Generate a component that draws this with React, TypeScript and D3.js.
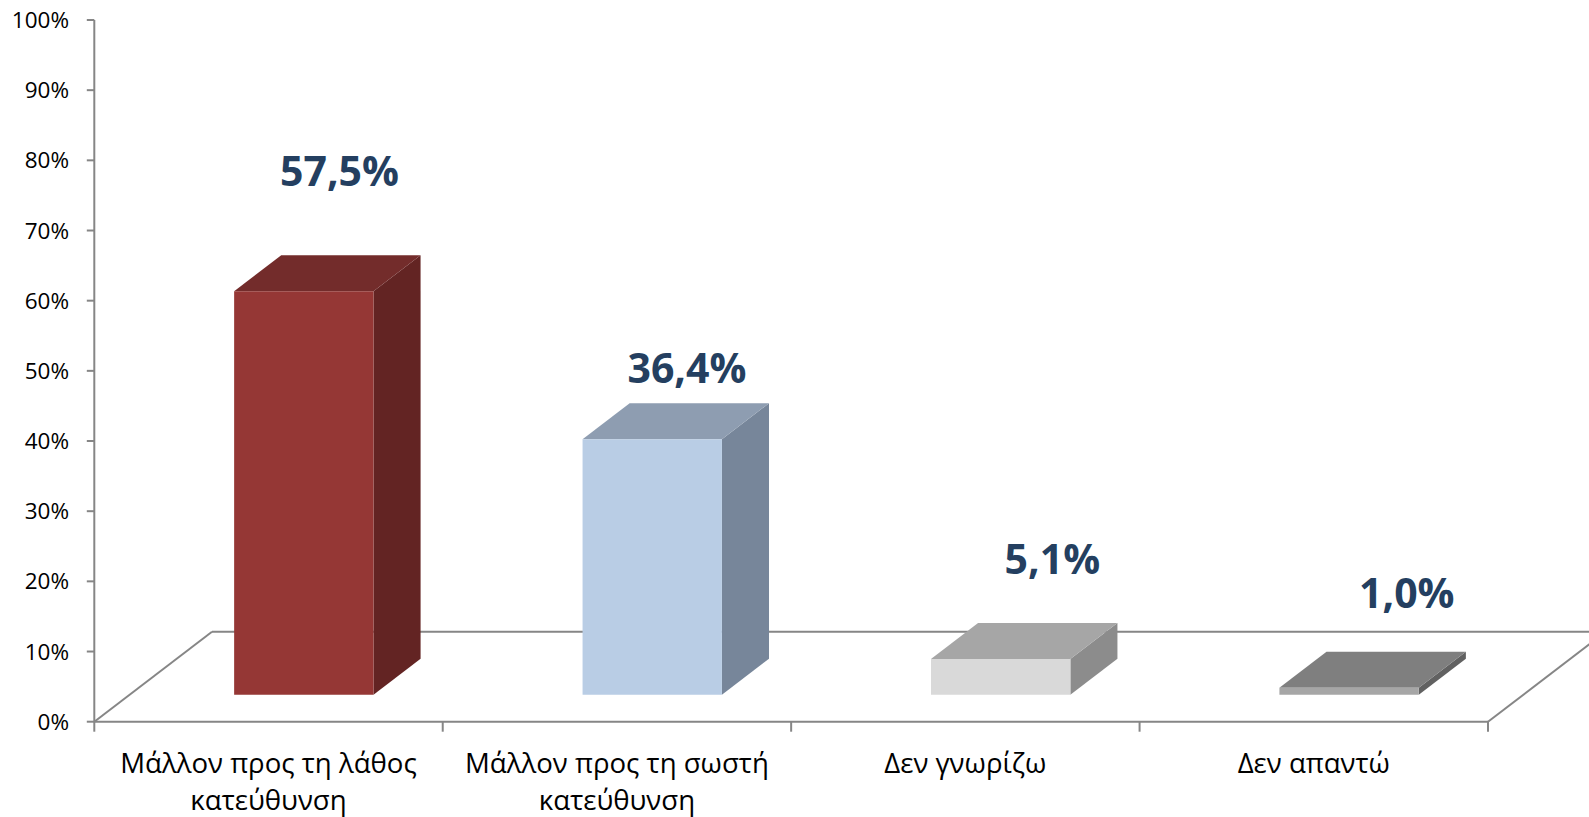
import React, { useEffect } from 'react';
import * as d3 from 'd3';

// ---- data ----
const categories: string[] = [
  'Μάλλον προς τη λάθος\nκατεύθυνση',
  'Μάλλον προς τη σωστή\nκατεύθυνση',
  'Δεν γνωρίζω',
  'Δεν απαντώ',
];
const values: number[] = [57.5, 36.4, 5.1, 1.0];
const yTickValues: number[] = [0, 10, 20, 30, 40, 50, 60, 70, 80, 90, 100];

// ---- styles ----
const frontColors = ['#953735', '#B9CDE5', '#D9D9D9', '#A6A6A6'];
const topColors = ['#732C2B', '#8E9DB1', '#A6A6A6', '#7F7F7F'];
const sideColors = ['#632423', '#77869A', '#8C8C8C', '#616161'];
// manual label placement (labels were dragged in the original)
const labelDx = [71, 70, 87, 93];
const labelDy = [-132, -83, -112, -107];

const W = 1589;
const H = 817;
const PLOT_LEFT = 94.3;
const PLOT_RIGHT = 1488;
const Y_TOP = 20;
const Y_BOTTOM = 721.7;
const DEPTH_DX = 117.7;
const DEPTH_DY = 90;
const BAR_D0 = 0.3;
const BAR_D1 = 0.7;
const AXIS_COLOR = '#868686';
const FONT = "'Open Sans', 'Noto Sans', 'DejaVu Sans', sans-serif";

const locale = d3.formatLocale({ decimal: ',', thousands: '.', grouping: [3], currency: ['', '€'] });
const fmt = locale.format('.1f');

export default function App() {
  useEffect(() => {
    document.body.style.margin = '0';
    document.documentElement.style.overflow = 'hidden';
  }, []);

  const x = d3.scaleBand<string>().domain(categories).range([PLOT_LEFT, PLOT_RIGHT]).padding(0);
  const y = d3.scaleLinear().domain([0, 100]).range([Y_BOTTOM, Y_TOP]);
  const bw = x.bandwidth();
  const barW = bw * 0.4;

  const proj = (px: number, py: number, d: number): [number, number] => [px + d * DEPTH_DX, py - d * DEPTH_DY];
  const poly = (pts: [number, number][]) => pts.map((p) => p.join(',')).join(' ');

  const floorFrontL = proj(PLOT_LEFT, y(0), 0);
  const floorBackL = proj(PLOT_LEFT, y(0), 1);
  const floorFrontR = proj(PLOT_RIGHT, y(0), 0);
  const floorBackR = proj(PLOT_RIGHT, y(0), 1);

  const xTickPositions = [...categories.map((c) => x(c) as number), PLOT_RIGHT];

  return (
    <svg width={W} height={H} style={{ position: 'absolute', left: 0, top: 0, display: 'block', background: '#fff' }} fontFamily={FONT}>
      {/* floor */}
      <g stroke={AXIS_COLOR} strokeWidth={2} fill="none">
        <line x1={floorBackL[0]} y1={floorBackL[1]} x2={floorBackR[0]} y2={floorBackR[1]} />
        <line x1={floorFrontL[0]} y1={floorFrontL[1]} x2={floorBackL[0]} y2={floorBackL[1]} />
        <line x1={floorFrontR[0]} y1={floorFrontR[1]} x2={floorBackR[0]} y2={floorBackR[1]} />
        <line x1={floorFrontL[0]} y1={floorFrontL[1]} x2={floorFrontR[0]} y2={floorFrontR[1]} />
      </g>

      {/* y axis */}
      <g stroke={AXIS_COLOR} strokeWidth={2}>
        <line x1={PLOT_LEFT} y1={Y_TOP} x2={PLOT_LEFT} y2={Y_BOTTOM} />
        {yTickValues.map((t) => (
          <line key={t} x1={PLOT_LEFT - 7.5} x2={PLOT_LEFT} y1={y(t)} y2={y(t)} />
        ))}
        {xTickPositions.map((px, i) => (
          <line key={i} x1={px} x2={px} y1={Y_BOTTOM} y2={Y_BOTTOM + 10} />
        ))}
      </g>
      <g fontSize={22.5} fill="#000" textAnchor="end">
        {yTickValues.map((t) => (
          <text key={t} x={69} y={y(t)} dy="0.36em">{`${t}%`}</text>
        ))}
      </g>

      {/* bars */}
      {categories.map((c, i) => {
        const cx = (x(c) as number) + bw / 2;
        const xl = cx - barW / 2;
        const xr = cx + barW / 2;
        const yb = y(0);
        const yt = y(values[i]);
        const f0 = proj(xl, yb, BAR_D0);
        const f1 = proj(xr, yb, BAR_D0);
        const f2 = proj(xr, yt, BAR_D0);
        const f3 = proj(xl, yt, BAR_D0);
        const b1 = proj(xr, yb, BAR_D1);
        const b2 = proj(xr, yt, BAR_D1);
        const b3 = proj(xl, yt, BAR_D1);
        return (
          <g key={c}>
            <polygon points={poly([f1, b1, b2, f2])} fill={sideColors[i]} />
            <polygon points={poly([f3, f2, b2, b3])} fill={topColors[i]} />
            <polygon points={poly([f0, f1, f2, f3])} fill={frontColors[i]} />
          </g>
        );
      })}

      {/* value labels */}
      <g fontSize={41} fontWeight="bold" fill="#243F60" textAnchor="middle">
        {categories.map((c, i) => (
          <text key={c} x={(x(c) as number) + bw / 2 + labelDx[i]} y={y(values[i]) + labelDy[i]}>
            {`${fmt(values[i])}%`}
          </text>
        ))}
      </g>

      {/* category labels */}
      <g fontSize={27.6} fill="#000" textAnchor="middle">
        {categories.map((c) => (
          <text key={c} x={(x(c) as number) + bw / 2} y={773}>
            {c.split('\n').map((line, j) => (
              <tspan key={j} x={(x(c) as number) + bw / 2} y={773 + j * 36.5}>{line}</tspan>
            ))}
          </text>
        ))}
      </g>
    </svg>
  );
}
